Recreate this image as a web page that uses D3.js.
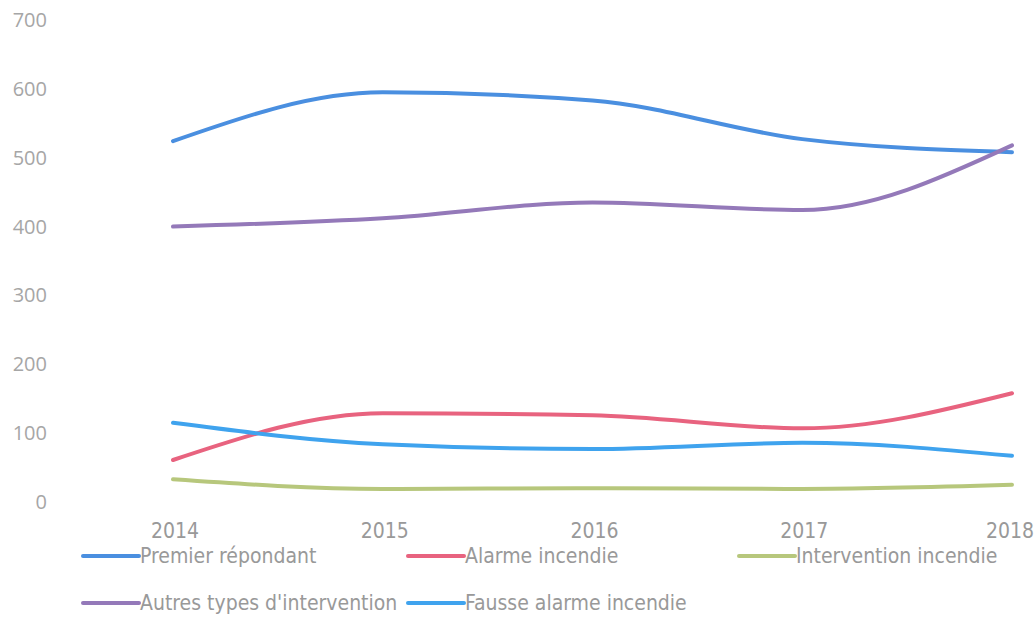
<!DOCTYPE html>
<html>
<head>
<meta charset="utf-8">
<script src="https://cdn.jsdelivr.net/npm/d3@7"></script>
<style>
  body { margin: 0; background: #fff; }
  svg text { font-family: "DejaVu Sans Condensed", "Open Sans", sans-serif; }
</style>
</head>
<body>
<div id="plot"></div>
<script>
var width = 1035;
var height = 643;
var margin = {top: 20, right: 23, bottom: 141, left: 173};

var years = ["2014", "2015", "2016", "2017", "2018"];
var yTicks = [0, 100, 200, 300, 400, 500, 600, 700];

var premierRepondant = [524, 595, 583, 527, 508];
var alarmeIncendie = [61, 129, 126, 107, 158];
var interventionIncendie = [33, 19, 20, 19, 25];
var autresTypes = [400, 412, 435, 424, 518];
var fausseAlarme = [115, 84, 77, 86, 67];

var seriesNames = ["Premier répondant", "Alarme incendie", "Intervention incendie",
                   "Autres types d'intervention", "Fausse alarme incendie"];
var seriesColors = ["#4a8fe0", "#e8637f", "#b7c77c", "#9479b9", "#3fa3ee"];
var seriesValues = [premierRepondant, alarmeIncendie, interventionIncendie, autresTypes, fausseAlarme];

var svg = d3.select("#plot").append("svg")
    .attr("width", width)
    .attr("height", height);

var x = d3.scalePoint()
    .domain(years)
    .range([margin.left, width - margin.right]);

var y = d3.scaleLinear()
    .domain([0, 700])
    .range([height - margin.bottom, margin.top]);

// y labels, no axis line
svg.selectAll("text.ylab")
   .data(yTicks)
   .enter()
   .append("text")
   .attr("class", "ylab")
   .attr("x", 47)
   .attr("y", function(d) { return y(d); })
   .attr("dy", "0.35em")
   .attr("text-anchor", "end")
   .attr("font-size", "20px")
   .attr("fill", "#a6a6a6")
   .style("font-family", "'Open Sans', sans-serif")
   .text(function(d) { return d; });

// x labels (last one kept inside the edge)
svg.selectAll("text.xlab")
   .data(years)
   .enter()
   .append("text")
   .attr("class", "xlab")
   .attr("x", function(d) { return Math.min(x(d) + 2, width - 25); })
   .attr("y", 538)
   .attr("text-anchor", "middle")
   .attr("font-size", "21px")
   .attr("fill", "#999")
   .text(function(d) { return d; });

var line = d3.line()
    .x(function(d, i) { return x(years[i]); })
    .y(function(d) { return y(d); })
    .curve(d3.curveMonotoneX);

svg.selectAll("path.series")
   .data(seriesValues)
   .enter()
   .append("path")
   .attr("class", "series")
   .attr("d", function(d) { return line(d); })
   .attr("fill", "none")
   .attr("stroke", function(d, i) { return seriesColors[i]; })
   .attr("stroke-width", 4)
   .attr("stroke-linecap", "round");

// legend
var legendPos = [
  {x: 83, y: 556}, {x: 408, y: 556}, {x: 739, y: 556},
  {x: 83, y: 603}, {x: 408, y: 603}
];

var legend = svg.selectAll("g.legend")
   .data(seriesNames)
   .enter()
   .append("g")
   .attr("class", "legend")
   .attr("transform", function(d, i) {
      return "translate(" + legendPos[i].x + "," + legendPos[i].y + ")";
   });

legend.append("line")
   .attr("x1", 0).attr("x2", 56)
   .attr("y1", 0).attr("y2", 0)
   .attr("stroke", function(d, i) { return seriesColors[i]; })
   .attr("stroke-width", 4)
   .attr("stroke-linecap", "round");

legend.append("text")
   .attr("x", 57)
   .attr("y", 0)
   .attr("dy", "0.35em")
   .attr("font-size", "21px")
   .attr("fill", "#999")
   .text(function(d) { return d; });
</script>
</body>
</html>
